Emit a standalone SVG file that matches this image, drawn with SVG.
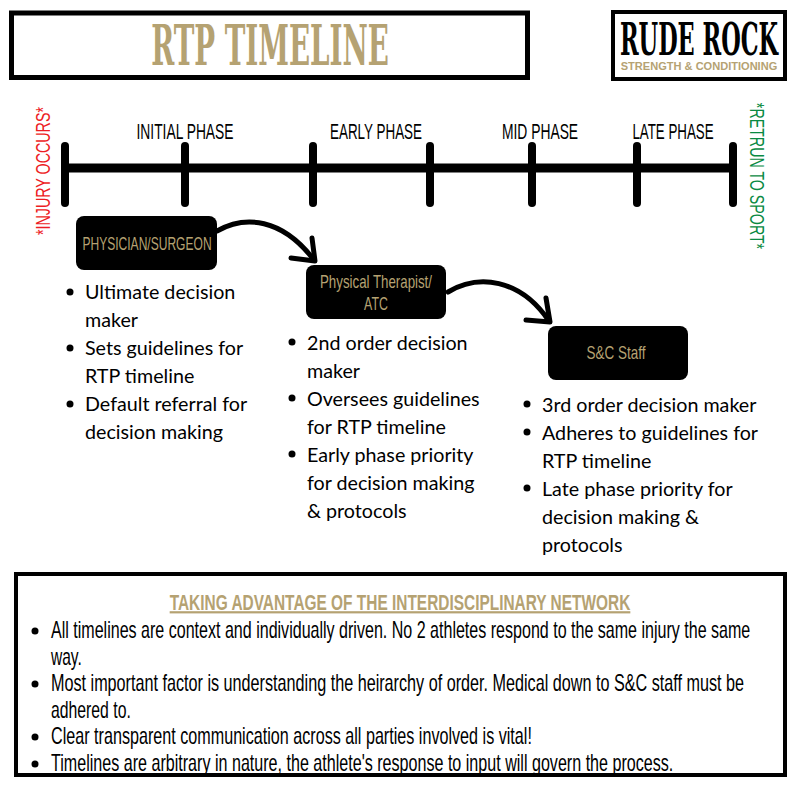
<svg xmlns="http://www.w3.org/2000/svg" width="800" height="800" viewBox="0 0 800 800">
<style>
text{font-family:"Liberation Sans",sans-serif}
.frame{fill:#fff;stroke:#000}
.slab{font-family:"DejaVu Serif Condensed","DejaVu Serif",serif;font-weight:700}
.phase{font-size:22px;fill:#000;text-anchor:middle}
.box{fill:#000}
.boxt{font-size:18px;fill:#b5a272;text-anchor:middle}
.body{font-family:"Lato",sans-serif;font-size:19.700px;fill:#000}
.note{font-size:23px;fill:#000}
.tick{stroke:#000;stroke-width:8;stroke-linecap:round}
.arrow{fill:none;stroke:#000;stroke-width:5;stroke-linecap:round;stroke-linejoin:round}
</style>
<rect width="800" height="800" fill="#fff"/>
<g id="title">
<rect class="frame" x="11.500" y="13" width="516" height="64.500" stroke-width="5"/>
<text class="slab" transform="translate(270,65) scale(.57,1)" font-size="56" fill="#b5a272" text-anchor="middle" textLength="417" lengthAdjust="spacingAndGlyphs">RTP TIMELINE</text>
</g>
<g id="logo">
<rect class="frame" x="613" y="12" width="172" height="67" stroke-width="4"/>
<text class="slab" transform="translate(699,55) scale(.62,1)" font-size="44" fill="#000" text-anchor="middle" textLength="255" lengthAdjust="spacingAndGlyphs">RUDE ROCK</text>
<text transform="translate(699,70) scale(.86,1)" font-size="11" font-weight="700" fill="#b5a272" text-anchor="middle" textLength="182" lengthAdjust="spacingAndGlyphs">STRENGTH &amp; CONDITIONING</text>
</g>
<g id="timeline">
<line x1="65" y1="168" x2="735" y2="168" stroke="#000" stroke-width="9"/>
<line class="tick" x1="65" y1="146" x2="65" y2="203"/>
<line class="tick" x1="185" y1="146" x2="185" y2="203"/>
<line class="tick" x1="313" y1="146" x2="313" y2="203"/>
<line class="tick" x1="430" y1="146" x2="430" y2="203"/>
<line class="tick" x1="532" y1="146" x2="532" y2="203"/>
<line class="tick" x1="637" y1="146" x2="637" y2="203"/>
<line class="tick" x1="733" y1="146" x2="733" y2="203"/>
<text class="phase" transform="translate(185,139) scale(.63,1)" textLength="154" lengthAdjust="spacingAndGlyphs">INITIAL PHASE</text>
<text class="phase" transform="translate(376,139) scale(.63,1)" textLength="146" lengthAdjust="spacingAndGlyphs">EARLY PHASE</text>
<text class="phase" transform="translate(540,139) scale(.63,1)" textLength="121" lengthAdjust="spacingAndGlyphs">MID PHASE</text>
<text class="phase" transform="translate(673,139) scale(.63,1)" textLength="129" lengthAdjust="spacingAndGlyphs">LATE PHASE</text>
<text transform="translate(50,171) rotate(-90) scale(.67,1)" font-size="21" fill="#ed1c24" text-anchor="middle" textLength="191" lengthAdjust="spacingAndGlyphs">*INJURY OCCURS*</text>
<text transform="translate(750,176) rotate(90) scale(.69,1)" font-size="21" fill="#0a8a43" text-anchor="middle" textLength="212" lengthAdjust="spacingAndGlyphs">*RETRUN TO SPORT*</text>
</g>
<g id="physician">
<rect class="box" x="76" y="216" width="141" height="54" rx="8"/>
<text class="boxt" transform="translate(147,250) scale(.63,1)" textLength="205" lengthAdjust="spacingAndGlyphs">PHYSICIAN/SURGEON</text>
<circle cx="70" cy="292" r="3.500"/><circle cx="70" cy="348" r="3.500"/><circle cx="70" cy="404" r="3.500"/>
<text class="body" x="85" y="299">Ultimate decision</text>
<text class="body" x="85" y="327">maker</text>
<text class="body" x="85" y="355">Sets guidelines for</text>
<text class="body" x="85" y="383">RTP timeline</text>
<text class="body" x="85" y="411">Default referral for</text>
<text class="body" x="85" y="439">decision making</text>
</g>
<g id="therapist">
<rect class="box" x="306" y="265" width="140" height="54" rx="8"/>
<text class="boxt" transform="translate(376,288) scale(.7,1)" textLength="160" lengthAdjust="spacingAndGlyphs">Physical Therapist/</text>
<text class="boxt" transform="translate(376,310) scale(.7,1)" textLength="34" lengthAdjust="spacingAndGlyphs">ATC</text>
<circle cx="292" cy="342" r="3.500"/><circle cx="292" cy="398" r="3.500"/><circle cx="292" cy="454" r="3.500"/>
<text class="body" x="307" y="350">2nd order decision</text>
<text class="body" x="307" y="378">maker</text>
<text class="body" x="307" y="406">Oversees guidelines</text>
<text class="body" x="307" y="434">for RTP timeline</text>
<text class="body" x="307" y="462">Early phase priority</text>
<text class="body" x="307" y="490">for decision making</text>
<text class="body" x="307" y="518">&amp; protocols</text>
</g>
<g id="sc-staff">
<rect class="box" x="548" y="326" width="140" height="54" rx="8"/>
<text class="boxt" transform="translate(616,359) scale(.7,1)" textLength="84" lengthAdjust="spacingAndGlyphs">S&amp;C Staff</text>
<circle cx="527" cy="404" r="3.500"/><circle cx="527" cy="432" r="3.500"/><circle cx="527" cy="488" r="3.500"/>
<text class="body" x="542" y="412">3rd order decision maker</text>
<text class="body" x="542" y="440">Adheres to guidelines for</text>
<text class="body" x="542" y="468">RTP timeline</text>
<text class="body" x="542" y="496">Late phase priority for</text>
<text class="body" x="542" y="524">decision making &amp;</text>
<text class="body" x="542" y="552">protocols</text>
</g>
<g id="connectors">
<path class="arrow" d="M217 231C245 215 282 218 314 260"/>
<path class="arrow" d="M291 258L315 261L312 238"/>
<path class="arrow" d="M448 292C478 274 520 278 549 321"/>
<path class="arrow" d="M526 320L550 322L546 298"/>
</g>
<g id="network">
<rect class="frame" x="16" y="574" width="769" height="201" stroke-width="4"/>
<text transform="translate(400,610) scale(.62,1)" font-size="22" font-weight="700" fill="#b5a272" text-anchor="middle" text-decoration="underline" textLength="743" lengthAdjust="spacingAndGlyphs">TAKING ADVANTAGE OF THE INTERDISCIPLINARY NETWORK</text>
<circle cx="35" cy="631" r="3.500"/><circle cx="35" cy="684" r="3.500"/><circle cx="35" cy="737" r="3.500"/><circle cx="35" cy="764" r="3.500"/>
<text class="note" transform="translate(51,638) scale(.7,1)" textLength="999" lengthAdjust="spacingAndGlyphs">All timelines are context and individually driven. No 2 athletes respond to the same injury the same</text>
<text class="note" transform="translate(51,665) scale(.7,1)" textLength="44" lengthAdjust="spacingAndGlyphs">way.</text>
<text class="note" transform="translate(51,691) scale(.7,1)" textLength="990" lengthAdjust="spacingAndGlyphs">Most important factor is understanding the heirarchy of order. Medical down to S&amp;C staff must be</text>
<text class="note" transform="translate(51,718) scale(.7,1)" textLength="114" lengthAdjust="spacingAndGlyphs">adhered to.</text>
<text class="note" transform="translate(51,744) scale(.7,1)" textLength="687" lengthAdjust="spacingAndGlyphs">Clear transparent communication across all parties involved is vital!</text>
<text class="note" transform="translate(51,771) scale(.7,1)" textLength="889" lengthAdjust="spacingAndGlyphs">Timelines are arbitrary in nature, the athlete's response to input will govern the process.</text>
</g>
</svg>
